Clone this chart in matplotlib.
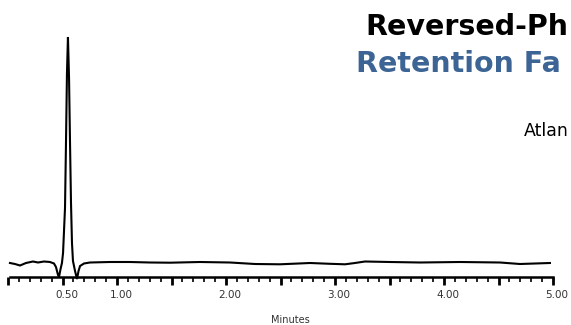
"""Chromatogram trace with clipped title block."""

import matplotlib

matplotlib.use("Agg")
import matplotlib.pyplot as plt
from matplotlib.ticker import FixedLocator, FuncFormatter, MultipleLocator
from matplotlib.transforms import ScaledTranslation

# retention time (min) and detector signal (arbitrary units, baseline = 0)
time_min = [
    0.018, 0.064, 0.110, 0.165, 0.229, 0.275, 0.330, 0.385, 0.422, 0.440,
    0.459, 0.468, 0.482, 0.495, 0.505, 0.523, 0.532, 0.541, 0.550, 0.560,
    0.569, 0.578, 0.587, 0.596, 0.615, 0.633, 0.647, 0.661, 0.697, 0.752,
    0.936, 1.119, 1.303, 1.486, 1.761, 2.037, 2.266, 2.495, 2.771, 2.954,
    3.092, 3.183, 3.275, 3.505, 3.780, 4.147, 4.514, 4.697, 4.835, 4.972,
]
signal = [
    0, -1, -2.5, 0, 1.5, 0.5, 1.5, 1, -0.5, -4,
    -12, -14, -6, 0, 10, 55, 120, 190, 226, 185,
    120, 60, 20, 2, -8, -16, -8, -3, -0.5, 0.5,
    1, 1, 0.5, 0.3, 1, 0.5, -1, -1.3, 0, -0.8,
    -1.3, 0, 1.5, 1, 0.5, 1, 0.5, -1, -0.5, 0,
]

tick_labels = {0.5: "0.50", 1.0: "1.00", 2.0: "2.00", 3.0: "3.00", 4.0: "4.00", 5.0: "5.00"}
# the source image is cropped at its right edge; only these parts are visible
title_lines = ["Reversed-Ph", "Retention Fa"]
column_name = "Atlan"

W, H = 571, 325
fig = plt.figure(figsize=(W / 100, H / 100), dpi=100)
ax = fig.add_axes([0, 0, 1, 1])
ax.set_xlim(-8 / 109, (W - 8) / 109)
ax.set_ylim(263 - H, 263)

ax.plot(time_min, signal, color="black", lw=1.5, solid_joinstyle="miter")

for side in ["top", "left", "right"]:
    ax.spines[side].set_visible(False)
ax.spines["bottom"].set_position(("data", -14))
ax.spines["bottom"].set_bounds(0.02, 5.0)
ax.spines["bottom"].set_linewidth(1.8)
ax.set_yticks([])

ax.xaxis.set_major_locator(MultipleLocator(0.5))
ax.xaxis.set_minor_locator(FixedLocator([i / 10 for i in range(1, 50) if i % 5]))
ax.xaxis.set_major_formatter(FuncFormatter(lambda v, _: tick_labels.get(round(v, 2), "")))
ax.tick_params(axis="x", which="major", direction="out", length=6, width=2,
               labelsize=7.5, labelcolor="#333333", pad=3)
ax.tick_params(axis="x", which="minor", direction="out", length=3.5, width=1.2)
shift = ScaledTranslation(4 / 100, 0, fig.dpi_scale_trans)
for lab in ax.get_xticklabels():
    lab.set_transform(lab.get_transform() + shift)

fig.text(290 / W, 1 - 320 / H, "Minutes", fontsize=7, color="#333333", ha="center", va="center")

fig.text(365 / W, 1 - 27 / H, title_lines[0], fontsize=20.5, fontweight="bold",
         color="black", ha="left", va="center")
fig.text(356 / W, 1 - 64 / H, title_lines[1], fontsize=20.5, fontweight="bold",
         color="#3c6494", ha="left", va="center")
fig.text(524 / W, 1 - 131 / H, column_name, fontsize=12.5, color="black", ha="left", va="center")

fig.savefig("out.png", dpi=100)
